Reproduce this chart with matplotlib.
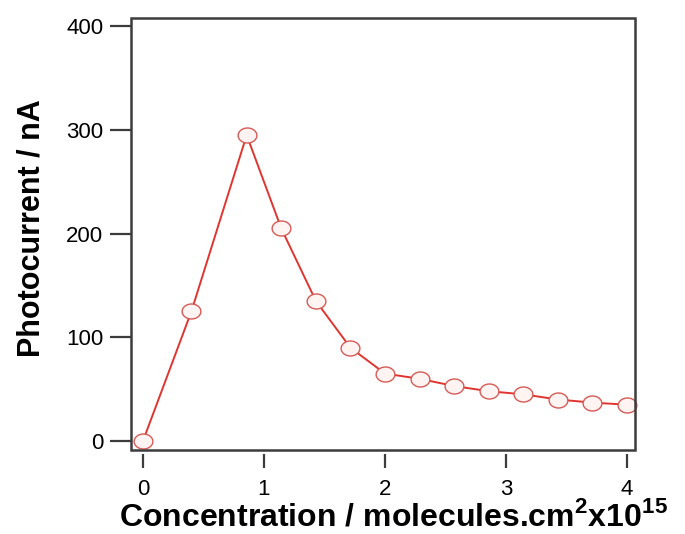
import matplotlib
matplotlib.use("Agg")
import matplotlib.pyplot as plt
from matplotlib.path import Path
from matplotlib.patches import Rectangle
import numpy as np

concentration = [0, 0.4, 0.857, 1.143, 1.429, 1.714, 2.0, 2.286, 2.571, 2.857, 3.143, 3.429, 3.714, 4.0]
photocurrent = [0, 125, 295, 205, 135, 90, 65, 60, 53, 48, 45, 40, 37, 35]
x_ticks = [0, 1, 2, 3, 4]
y_ticks = [0, 100, 200, 300, 400]

plt.rcParams['font.family'] = ['Liberation Sans', 'DejaVu Sans']
plt.rcParams['mathtext.fontset'] = 'custom'
plt.rcParams['mathtext.rm'] = 'Liberation Sans:bold'
plt.rcParams['mathtext.bf'] = 'Liberation Sans:bold'

frame_col = '#3c3c3c'

# slightly wide ellipse marker, like the original
t = np.linspace(0, 2 * np.pi, 60)
ellipse = Path(np.column_stack([1.25 * np.cos(t), np.sin(t)]), closed=True)

fig = plt.figure(figsize=(6.85, 5.34), dpi=100)
ax = fig.add_axes([131 / 685, 1 - 450 / 534, (635 - 131) / 685, (450 - 18) / 534])

ax.plot(concentration, photocurrent, color='#e0352f', lw=1.4,
        marker=ellipse, markersize=13.5, markerfacecolor='#fff4f2',
        markeredgecolor='#d65a56', markeredgewidth=1.0, clip_on=False)

ax.set_xlim(-0.099, 4.066)
ax.set_ylim(-8.7, 408)
ax.set_xticks(x_ticks)
ax.set_yticks(y_ticks)

# box frame, x ticks sit a little below it
for s in ax.spines.values():
    s.set_visible(False)
ax.spines['bottom'].set_position(('outward', 3))
ax.add_patch(Rectangle((0, 0), 1, 1, transform=ax.transAxes, fill=False,
                       edgecolor=frame_col, lw=1.8, clip_on=False, zorder=3))

ax.tick_params(direction='out', width=1.6, color=frame_col, labelsize=16)
ax.tick_params(axis='y', length=15, pad=5)
ax.tick_params(axis='x', length=10, pad=8)

ax.set_xlabel(r'Concentration / molecules.cm$^{2}$x10$^{15}$',
              fontsize=23, fontweight='bold')
ax.xaxis.set_label_coords(0.52, -0.116)
ax.xaxis.label.set_va('top')
ax.set_ylabel('Photocurrent / nA', fontsize=22, fontweight='bold')
ax.yaxis.set_label_coords(-0.168, 0.514)

fig.savefig("out.png", dpi=100)
